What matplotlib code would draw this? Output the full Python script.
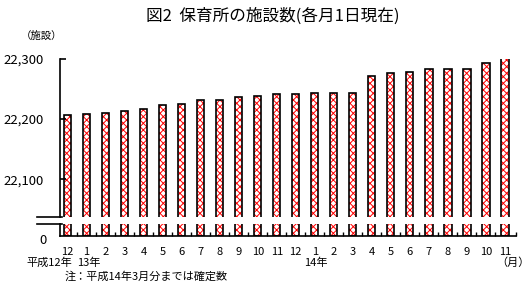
"""図2 保育所の施設数（各月1日現在） - broken-axis bar chart."""

import matplotlib

matplotlib.use("Agg")
import matplotlib.pyplot as plt
from matplotlib.lines import Line2D

MONTHS = ["12", "1", "2", "3", "4", "5", "6", "7", "8", "9", "10", "11",
          "12", "1", "2", "3", "4", "5", "6", "7", "8", "9", "10", "11"]
FACILITIES = [22206, 22208, 22210, 22213, 22216, 22223, 22225, 22231,
              22231, 22236, 22239, 22241, 22241, 22244, 22244, 22244,
              22272, 22277, 22279, 22283, 22284, 22284, 22294, 22301]
Y_TICKS = [22100, 22200, 22300]
Y_TICK_LABELS = ["22,100", "22,200", "22,300"]

W, H = 531, 289

plt.rcParams["font.family"] = ["Noto Sans CJK JP", "DejaVu Sans"]
plt.rcParams["hatch.linewidth"] = 0.7


def fx(px):
    return px / W


def fy(py):
    return 1 - py / H


fig = plt.figure(figsize=(W / 100, H / 100), dpi=100)

left, right = 60, 516
ax_top = fig.add_axes([fx(left), fy(217), fx(right - left), (217 - 59) / H])
ax_bot = fig.add_axes([fx(left), fy(236), fx(right - left), (236 - 224) / H])

x = list(range(len(FACILITIES)))
for ax in (ax_top, ax_bot):
    ax.bar(x, FACILITIES, width=0.38, color="white", edgecolor="red",
           hatch="xxxxx", linewidth=0)
    ax.bar(x, FACILITIES, width=0.38, color="none", edgecolor="black",
           linewidth=1.2)
    ax.set_xlim(-0.395, 23.58)
    ax.spines["top"].set_visible(False)
    ax.spines["right"].set_visible(False)
    ax.spines["left"].set_linewidth(1.2)

# upper part
ax_top.set_ylim(22037, 22300)
ax_top.spines["bottom"].set_visible(False)
ax_top.set_yticks(Y_TICKS)
ax_top.set_yticklabels(Y_TICK_LABELS)
ax_top.tick_params(axis="y", direction="in", length=4, width=1.2, pad=12,
                   labelsize=9.5)
ax_top.tick_params(axis="x", bottom=False, labelbottom=False)

# lower part (0 .. break)
ax_bot.set_ylim(0, 1000)
ax_bot.spines["bottom"].set_linewidth(1.2)
ax_bot.set_yticks([])
ax_bot.set_xticks(x)
ax_bot.set_xticklabels(MONTHS)
ax_bot.set_xticks([i + 0.5 for i in range(len(x) - 1)] + [23.58], minor=True)
ax_bot.tick_params(axis="x", which="major", length=0, pad=8, labelsize=8)
ax_bot.tick_params(axis="x", which="minor", direction="in", length=3,
                   width=1.0)

# break marks
for yy in (217, 224):
    fig.add_artist(Line2D([fx(37), fx(62)], [fy(yy), fy(yy)],
                          color="black", linewidth=1.2))

fig.text(fx(47), fy(240), "0", ha="right", va="center", fontsize=9.5)
fig.text(fx(273), fy(16), "図2  保育所の施設数(各月1日現在)", ha="center",
         va="center", fontsize=12)
fig.text(fx(42), fy(36), "（施設）", ha="center", va="center", fontsize=7.5)
fig.text(fx(26), fy(266), "平成12年", ha="left", va="baseline", fontsize=8)
fig.text(fx(89), fy(266), "13年", ha="center", va="baseline", fontsize=8)
fig.text(fx(316), fy(266), "14年", ha="center", va="baseline", fontsize=8)
fig.text(fx(513), fy(263), "（月）", ha="center", va="center", fontsize=8)
fig.text(fx(65), fy(277), "注：平成14年3月分までは確定数", ha="left",
         va="center", fontsize=8)

fig.savefig("out.png", dpi=100)
